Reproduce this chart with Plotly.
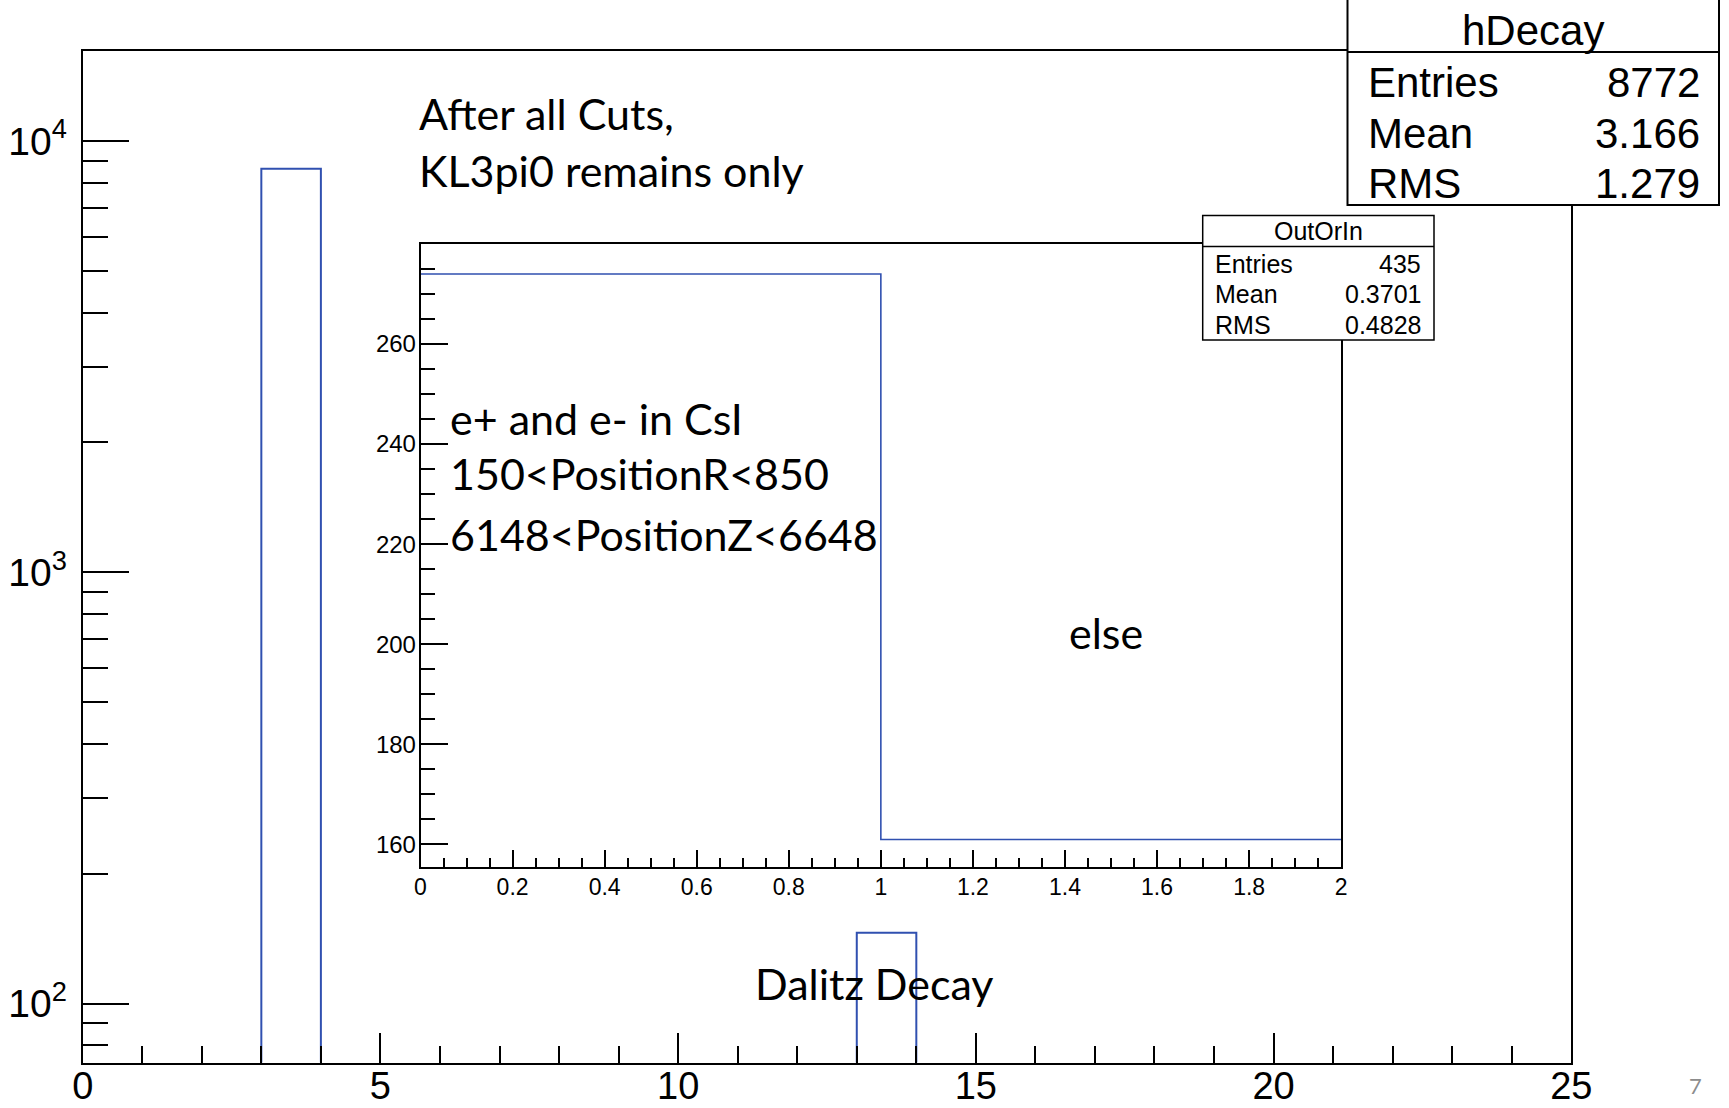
import plotly.graph_objects as go

W, H = 1729, 1108

# ---------------- data ----------------
# main histogram (hDecay): integer-valued bins of width 1
main_bin_centers = [3.5, 13.5]
main_counts = [8626, 146]
main_bin_width = 1

# inset histogram (OutOrIn)
inset_x = [0, 1, 2]
inset_counts = [274, 161, 161]   # last value repeats for step drawing

main_x_major = [0, 5, 10, 15, 20, 25]
main_x_labels = ["0", "5", "10", "15", "20", "25"]
main_x_minor = [i for i in range(26) if i % 5]
main_y_major = [100, 1000, 10000]
main_y_labels = ["10<sup>2</sup>", "10<sup>3</sup>", "10<sup>4</sup>"]
main_y_minor = [m * 10 ** e for e in (1, 2, 3, 4) for m in range(2, 10)]

inset_x_major = [0, 0.2, 0.4, 0.6, 0.8, 1, 1.2, 1.4, 1.6, 1.8, 2]
inset_x_labels = ["0", "0.2", "0.4", "0.6", "0.8", "1", "1.2", "1.4", "1.6", "1.8", "2"]
inset_x_minor = [k * 0.05 for k in range(41) if k % 4]
inset_y_major = [160, 180, 200, 220, 240, 260]
inset_y_labels = ["160", "180", "200", "220", "240", "260"]
inset_y_minor = [v for v in range(155, 281, 5) if v % 20]

stats_main = [("Entries", "8772"), ("Mean", "3.166"), ("RMS", "1.279")]
stats_inset = [("Entries", "435"), ("Mean", "0.3701"), ("RMS", "0.4828")]

BLUE = "#3050b0"
TICKFONT = "Liberation Sans"
TXTFONT = "Lato"


def px(x):
    return x / W


def py(y):
    return 1 - y / H


fig = go.Figure()

fig.add_trace(go.Bar(
    x=main_bin_centers, y=main_counts, width=main_bin_width,
    marker=dict(color="rgba(0,0,0,0)", line=dict(color=BLUE, width=2)),
    xaxis="x", yaxis="y", showlegend=False,
))

fig.add_trace(go.Scatter(
    x=inset_x, y=inset_counts, mode="lines", line=dict(color=BLUE, width=1.6, shape="hv"),
    xaxis="x2", yaxis="y2", showlegend=False,
))

fig.update_layout(
    width=W, height=H,
    margin=dict(l=0, r=0, t=0, b=0, pad=0),
    paper_bgcolor="white", plot_bgcolor="white",
    xaxis=dict(
        domain=[px(82.7), px(1571.3)], range=[0, 25], anchor="y", automargin=False,
        showgrid=False, zeroline=False, showline=True, linecolor="black", linewidth=2, mirror=True,
        tickmode="array", tickvals=main_x_major, ticktext=main_x_labels,
        ticks="inside", ticklen=30, tickwidth=2, tickcolor="black",
        minor=dict(tickmode="array", tickvals=main_x_minor, ticks="inside", ticklen=17, tickwidth=2, tickcolor="black"),
        tickfont=dict(family=TICKFONT, size=38, color="black"), ticklabelstandoff=-11,
    ),
    yaxis=dict(
        domain=[py(1062.5), py(50.7)], type="log", range=[1.8632, 4.2096], anchor="x", automargin=False,
        showgrid=False, zeroline=False, showline=True, linecolor="black", linewidth=2, mirror=True,
        tickmode="array", tickvals=main_y_major, ticktext=main_y_labels,
        ticks="inside", ticklen=46, tickwidth=2, tickcolor="black",
        minor=dict(tickmode="array", tickvals=main_y_minor, ticks="inside", ticklen=25, tickwidth=2, tickcolor="black"),
        tickfont=dict(family=TICKFONT, size=39, color="black"), ticklabelstandoff=6,
    ),
    xaxis2=dict(
        domain=[px(420.5), px(1341.2)], range=[0, 2], anchor="y2", automargin=False,
        showgrid=False, zeroline=False, showline=True, linecolor="black", linewidth=1.5, mirror=True,
        tickmode="array", tickvals=inset_x_major, ticktext=inset_x_labels,
        ticks="inside", ticklen=18, tickwidth=1.5, tickcolor="black",
        minor=dict(tickmode="array", tickvals=inset_x_minor, ticks="inside", ticklen=10, tickwidth=1.5, tickcolor="black"),
        tickfont=dict(family=TICKFONT, size=23, color="black"), ticklabelstandoff=-2,
    ),
    yaxis2=dict(
        domain=[py(867.3), py(244)], range=[155.44, 279.98], anchor="x2", automargin=False,
        showgrid=False, zeroline=False, showline=True, linecolor="black", linewidth=1.5, mirror=True,
        tickmode="array", tickvals=inset_y_major, ticktext=inset_y_labels,
        ticks="inside", ticklen=28, tickwidth=1.5, tickcolor="black",
        minor=dict(tickmode="array", tickvals=inset_y_minor, ticks="inside", ticklen=15, tickwidth=1.5, tickcolor="black"),
        tickfont=dict(family=TICKFONT, size=24, color="black"), ticklabelstandoff=-2,
    ),
)

shapes = []
annotations = []


def stat_box(x0, x1, ytop, ysep, ybot, title, rows, title_y, row_ys, lx, rx, size, lw):
    shapes.append(dict(type="rect", xref="paper", yref="paper", x0=px(x0), x1=px(x1),
                       y0=py(ybot), y1=py(ytop), line=dict(color="black", width=lw), fillcolor="white", layer="above"))
    shapes.append(dict(type="line", xref="paper", yref="paper", x0=px(x0), x1=px(x1),
                       y0=py(ysep), y1=py(ysep), line=dict(color="black", width=lw), layer="above"))
    annotations.append(dict(xref="paper", yref="paper", x=px((x0 + x1) / 2), y=py(title_y), text=title,
                            showarrow=False, xanchor="center", yanchor="middle",
                            font=dict(family=TICKFONT, size=size, color="black")))
    for (lab, val), yy in zip(rows, row_ys):
        annotations.append(dict(xref="paper", yref="paper", x=px(lx), y=py(yy), text=lab, showarrow=False,
                                xanchor="left", yanchor="middle", font=dict(family=TICKFONT, size=size, color="black")))
        annotations.append(dict(xref="paper", yref="paper", x=px(rx), y=py(yy), text=val, showarrow=False,
                                xanchor="right", yanchor="middle", font=dict(family=TICKFONT, size=size, color="black")))


stat_box(1347.5, 1719, -5, 52, 205, "hDecay", stats_main, 30, [82.7, 133.4, 183], 1366, 1702, 42, 2)
stat_box(1202.7, 1434, 215.5, 246.5, 340, "OutOrIn", stats_inset, 231.5, [263.5, 294.4, 325.3], 1213, 1423, 25, 1.5)


def text(x, y, s, size, anchor="left", color="black", fam=TXTFONT):
    annotations.append(dict(xref="paper", yref="paper", x=px(x), y=py(y), text=s, showarrow=False,
                            xanchor=anchor, yanchor="middle", font=dict(family=fam, size=size, color=color)))


text(417, 113, "After all Cuts,", 43)
text(417, 171, "KL3pi0 remains only", 43)
text(448, 418, "e+ and e- in CsI", 43)
text(448, 474, "150&lt;PositionR&lt;850", 43)
text(448, 534, "6148&lt;PositionZ&lt;6648", 43)
text(1106, 632, "else", 43, anchor="center")
text(874, 983, "Dalitz Decay", 43, anchor="center")
text(1695, 1085, "7", 22, anchor="center", color="#8c8c8c")

fig.update_layout(shapes=shapes, annotations=annotations)

fig.write_html("out.html", config={"displayModeBar": False},
               post_script="document.body.style.margin='0';")
